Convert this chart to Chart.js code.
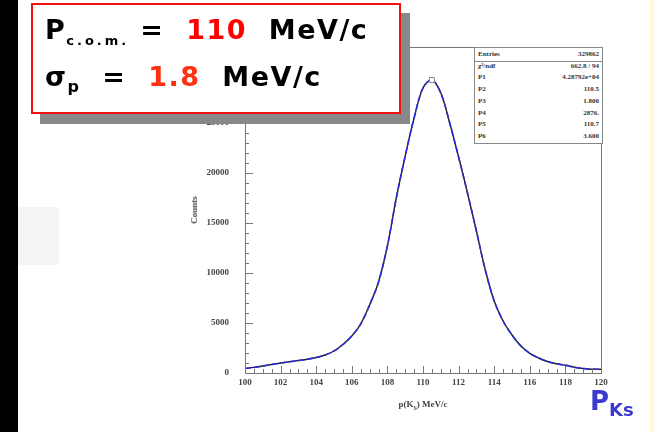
<!DOCTYPE html>
<html><head><meta charset="utf-8">
<script src="https://cdn.jsdelivr.net/npm/chart.js@4/dist/chart.umd.min.js"></script>
<style>
html,body{margin:0;padding:0;background:#fff;width:654px;height:432px;overflow:hidden;position:relative;font-family:"DejaVu Sans",sans-serif}
#cv{position:absolute;left:0;top:0}
.abs{position:absolute}
#leftbar{left:0;top:0;width:18px;height:432px;background:#000}
#rightbar{left:650px;top:0;width:4px;height:432px;background:#fff8d8}
#graybox{left:18px;top:207px;width:41px;height:58px;background:#f4f4f4}
#redbox{left:31px;top:3px;width:366px;height:107px;border:2px solid #ee1111;background:#fff;box-shadow:9px 10px 0 #888}
.big{font-family:"DejaVu Sans",sans-serif;font-weight:bold;font-size:27px;color:#000;white-space:nowrap;letter-spacing:1.5px}
#stats{left:474px;top:47px;width:127px;height:95px;border:1px solid #888;background:#fff;font-family:"Liberation Serif",serif;font-size:7px;font-weight:bold;color:#333}
#stats .row{position:absolute;left:3px;right:3px;height:11px}
#stats .row span{position:absolute;right:0}
#pks{left:590px;top:386px;color:#3a3ad0;font-weight:bold;font-family:"DejaVu Sans",sans-serif;font-size:26px;white-space:nowrap}
</style></head><body>
<div id="leftbar" class="abs"></div>
<div id="rightbar" class="abs"></div>
<div id="graybox" class="abs"></div>
<canvas id="cv" width="654" height="432"></canvas>
<div id="stats" class="abs"></div>
<div class="abs" style="left:194px;top:210px;transform:translate(-50%,-50%) rotate(-90deg);font-family:'Liberation Serif',serif;font-weight:bold;font-size:9px;color:#444">Counts</div>
<div class="abs" style="left:423px;top:399px;transform:translateX(-50%);font-family:'Liberation Serif',serif;font-weight:bold;font-size:9px;color:#444">p(K<sub style="font-size:6px">S</sub>) MeV/c</div>
<div id="redbox" class="abs">
  <div class="abs big" style="left:12px;top:9px">P<sub style="font-size:13px;letter-spacing:3px">c.o.m.</sub> =&nbsp; <span style="color:#ff0000">110</span>&nbsp; MeV/c</div>
  <div class="abs big" style="left:12px;top:56px">σ<sub style="font-size:16px">p</sub>&nbsp; = &nbsp;<span style="color:#ff3010">1.8</span>&nbsp; MeV/c</div>
</div>
<div id="pks" class="abs">P<sub style="font-size:18px">Ks</sub></div>
<script>
// ---- data ----
const momentum = [100,100.5,101,101.5,102,102.5,103,103.5,104,104.5,105,105.5,106,106.5,107,107.5,108,108.5,109,109.5,110,110.5,111,111.5,112,112.5,113,113.5,114,114.5,115,115.5,116,116.5,117,117.5,118,118.5,119,119.5,120];
const counts = [450,560,700,850,1000,1120,1250,1380,1550,1800,2200,2850,3700,4900,6800,9100,12700,17500,21700,25500,28500,29300,28000,25000,21600,18000,14200,10300,7200,5200,3800,2700,1970,1500,1150,920,770,580,450,380,380];
const peakP = [110.5];
const peakC = [29300];
const xTicks = [100,102,104,106,108,110,112,114,116,118,120];
const yTicks = [0,5000,10000,15000,20000,25000];
const statLabels = ["Entries","χ²/ndf","P1","P2","P3","P4","P5","P6"];
const statValues = ["329862","662.8 / 94","4.28792e+04","110.5","1.800","2876.","110.7","3.600"];

// stats box
const sb = document.getElementById('stats');
statLabels.forEach((l,i)=>{
  const r=document.createElement('div'); r.className='row';
  r.style.top=(2+i*11.7)+'px';
  r.innerHTML=l+'<span>'+statValues[i]+'</span>';
  if(i===0){r.style.borderBottom='1px solid #888';r.style.left='0';r.style.right='0';r.style.paddingLeft='3px';}
  sb.appendChild(r);
});
sb.querySelectorAll('.row')[0].querySelector('span').style.right='3px';

const frame = {
  id:'frame',
  afterDraw(c){
    const ctx=c.ctx, a=c.chartArea, xs=c.scales.x, ys=c.scales.y;
    ctx.save();
    ctx.strokeStyle='#777'; ctx.lineWidth=1;
    ctx.strokeRect(a.left+0.5,a.top+0.5,a.right-a.left,a.bottom-a.top);
    ctx.beginPath();
    for(let v=100; v<=120.001; v+=0.5){
      const x=Math.round(xs.getPixelForValue(v))+0.5;
      const L = (Math.abs(v/2-Math.round(v/2))<1e-6)?7:4;
      ctx.moveTo(x,a.bottom); ctx.lineTo(x,a.bottom-L);
    }
    for(let v=0; v<=ys.max; v+=1000){
      const y=Math.round(ys.getPixelForValue(v))+0.5;
      const L = (v%5000===0)?8:4;
      ctx.moveTo(a.left,y); ctx.lineTo(a.left+L,y);
    }
    ctx.stroke();
    ctx.restore();
  }
};

new Chart(document.getElementById('cv'),{
  type:'line',
  data:{datasets:[
    {data:momentum.map((p,i)=>({x:p,y:counts[i]})),borderColor:'#222',borderWidth:1.4,pointRadius:0,tension:0.35,order:2},
    {data:momentum.map((p,i)=>({x:p,y:counts[i]})),borderColor:'#2a2ae0',borderWidth:1.6,borderDash:[6,3],pointRadius:0,tension:0.35,order:1},
    {data:peakP.map((p,i)=>({x:p,y:peakC[i]})),showLine:false,pointStyle:'rect',pointRadius:3.5,pointBorderColor:'#888',pointBackgroundColor:'#fff',pointBorderWidth:1,order:0}
  ]},
  options:{
    responsive:false,animation:false,
    layout:{padding:{left:0,top:47,right:53,bottom:0}},
    plugins:{legend:{display:false},tooltip:{enabled:false}},
    scales:{
      x:{type:'linear',min:100,max:120,
        afterBuildTicks(s){s.ticks=xTicks.map(v=>({value:v}));},
        afterFit(s){s.height=59;},
        grid:{display:false,drawTicks:false},border:{display:false},
        ticks:{color:'#444',font:{family:'Liberation Serif',size:9,weight:'bold'},padding:4,maxRotation:0,callback:v=>String(v)}},
      y:{type:'linear',min:0,max:32600,
        afterBuildTicks(s){s.ticks=yTicks.map(v=>({value:v}));},
        afterFit(s){s.width=245;},
        grid:{display:false},border:{display:false},
        ticks:{color:'#444',font:{family:'Liberation Serif',size:9,weight:'bold'},padding:8,callback:v=>String(v)}}
    }
  },
  plugins:[frame]
});
</script>
</body></html>
